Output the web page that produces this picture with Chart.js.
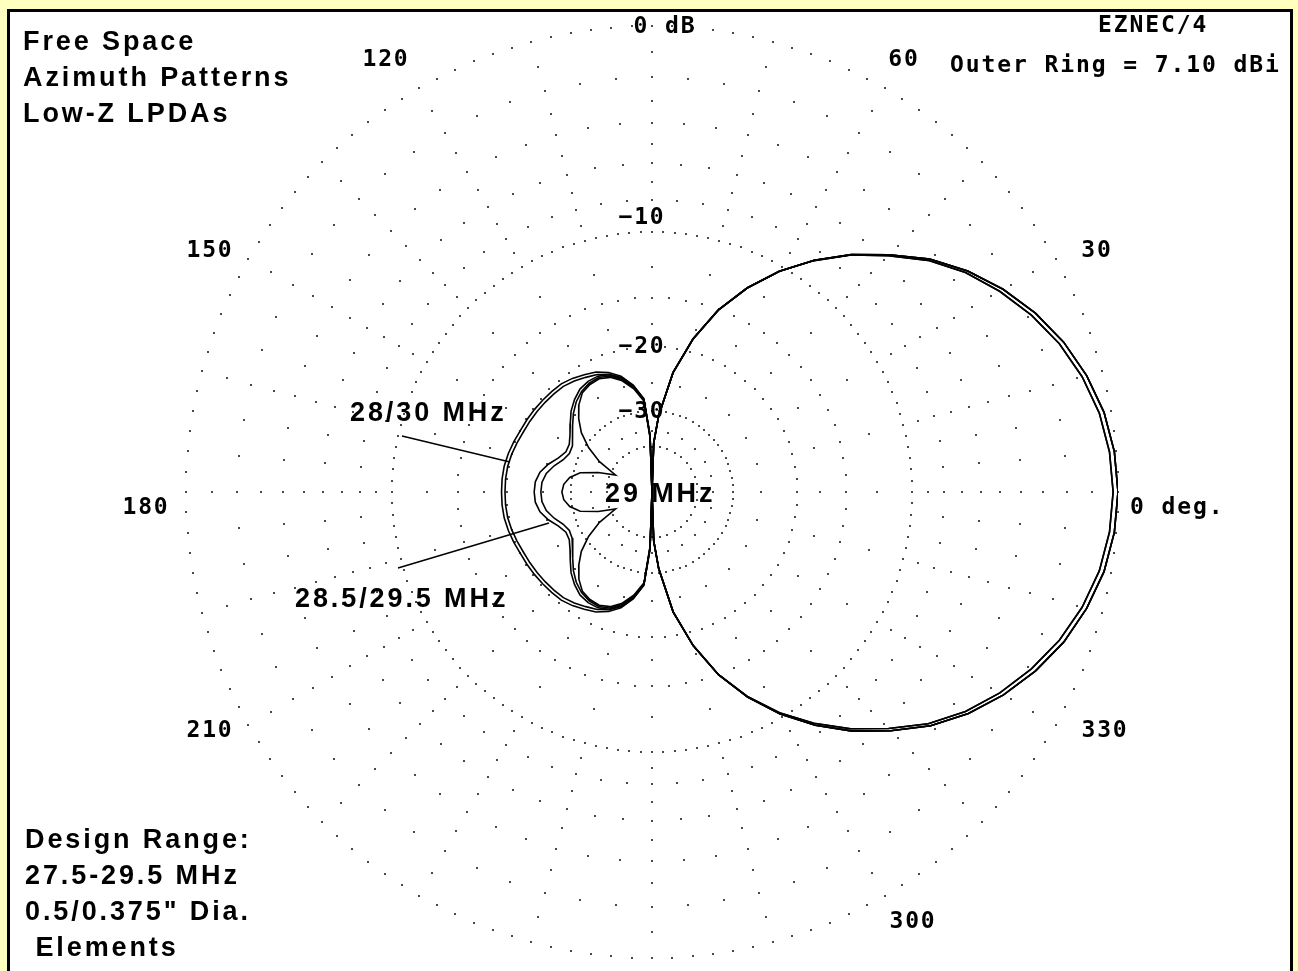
<!DOCTYPE html>
<html>
<head>
<meta charset="utf-8">
<title>Free Space Azimuth Patterns - Low-Z LPDAs</title>
<script src="https://cdn.jsdelivr.net/npm/chart.js@4.4.1/dist/chart.umd.min.js"></script>
<style>
  html, body { margin: 0; padding: 0; background: #ffffc0; }
  #wrap { position: relative; width: 1298px; height: 971px; }
</style>
</head>
<body>
<div id="wrap"><canvas id="polar"></canvas></div>
<script>
// Azimuth angles (degrees, 0 = forward, counter-clockwise)
const ANGLES = [0,5,10,15,20,25,30,35,40,45,50,55,60,65,70,75,80,85,88,90,92,
  95,100,105,110,115,120,125,130,135,140,145,150,155,160,165,170,175,180,
  185,190,195,200,205,210,215,220,225,230,235,240,245,250,255,260,265,
  268,270,272,275,280,285,290,295,300,305,310,315,320,325,330,335,340,345,350,355,360];

// Relative field strength in dB below the outer ring (7.10 dBi)
const MHZ_28 = [-0.18,-0.25,-0.44,-0.78,-1.24,-1.84,-2.56,-3.38,-4.41,-5.7,-7.03,-8.59,-10.36,-12.49,-15.08,-18.52,-23.12,-30.92,-38.7,
  -99,-36.0,
  -27.5,-25.0,-23.3,-22.3,-21.6,-21.2,-20.8,-20.5,-20.4,-20.3,-20.2,-20.1,-20.0,-19.8,-19.6,-19.45,-19.4,-19.4,
  -19.4,-19.45,-19.6,-19.8,-20.0,-20.1,-20.2,-20.3,-20.4,-20.5,-20.8,-21.2,-21.6,-22.3,-23.3,-25.0,-27.5,
  -36.0,-99,
  -38.7,-30.92,-23.05,-18.45,-15.0,-12.45,-10.35,-8.6,-7.05,-5.69,-4.4,-3.38,-2.55,-1.84,-1.24,-0.78,-0.44,-0.25,-0.18];

const MHZ_30 = [-0.18,-0.25,-0.44,-0.78,-1.24,-1.84,-2.56,-3.38,-4.41,-5.7,-7.03,-8.59,-10.36,-12.49,-15.08,-18.52,-23.12,-30.92,-38.7,
  -99,-36.0,
  -27.6,-25.1,-23.5,-22.6,-21.95,-21.6,-21.2,-20.9,-20.8,-20.7,-20.6,-20.5,-20.4,-20.2,-20.0,-19.85,-19.8,-19.8,
  -19.8,-19.85,-20.0,-20.2,-20.4,-20.5,-20.6,-20.7,-20.8,-20.9,-21.2,-21.6,-21.95,-22.6,-23.5,-25.1,-27.6,
  -36.0,-99,
  -38.7,-30.92,-23.05,-18.45,-15.0,-12.45,-10.35,-8.6,-7.05,-5.69,-4.4,-3.38,-2.55,-1.84,-1.24,-0.78,-0.44,-0.25,-0.18];

const MHZ_28_5 = [0,-0.07,-0.26,-0.6,-1.06,-1.66,-2.39,-3.26,-4.31,-5.64,-7.0,-8.57,-10.36,-12.49,-15.08,-18.52,-23.12,-30.92,-38.7,
  -99,-36.5,
  -27.8,-25.3,-23.6,-22.6,-22.2,-22.2,-22.5,-23.2,-24.1,-25.3,-26.4,-27.2,-27.3,-26.5,-25.2,-24.2,-23.7,-23.6,
  -23.7,-24.2,-25.2,-26.5,-27.3,-27.2,-26.4,-25.3,-24.1,-23.2,-22.5,-22.2,-22.2,-22.6,-23.6,-25.3,-27.8,
  -36.5,-99,
  -38.7,-30.92,-23.05,-18.45,-15.0,-12.4,-10.25,-8.45,-6.88,-5.53,-4.25,-3.22,-2.37,-1.65,-1.05,-0.6,-0.26,-0.07,0];

const MHZ_29_5 = [0,-0.07,-0.26,-0.6,-1.06,-1.66,-2.39,-3.26,-4.31,-5.64,-7.0,-8.57,-10.36,-12.49,-15.08,-18.52,-23.12,-30.92,-38.7,
  -99,-36.5,
  -27.8,-25.4,-23.8,-22.8,-22.4,-22.5,-22.9,-23.6,-24.6,-25.8,-27.0,-27.8,-28.0,-27.4,-26.2,-25.2,-24.7,-24.6,
  -24.7,-25.2,-26.2,-27.4,-28.0,-27.8,-27.0,-25.8,-24.6,-23.6,-22.9,-22.5,-22.4,-22.8,-23.8,-25.4,-27.8,
  -36.5,-99,
  -38.7,-30.92,-23.05,-18.45,-15.0,-12.4,-10.25,-8.45,-6.88,-5.53,-4.25,-3.22,-2.37,-1.65,-1.05,-0.6,-0.26,-0.07,0];

const MHZ_29 = [0,-0.07,-0.26,-0.6,-1.06,-1.66,-2.39,-3.26,-4.31,-5.64,-7.0,-8.57,-10.36,-12.49,-15.08,-18.52,-23.12,-30.92,-38.7,
  -99,-37.0,
  -28.0,-25.6,-24.0,-23.0,-22.6,-22.7,-23.1,-24.2,-25.8,-27.8,-30.8,-35.0,-42.0,-36.0,-31.5,-29.5,-28.5,-28.2,
  -28.5,-29.5,-31.5,-36.0,-42.0,-35.0,-30.8,-27.8,-25.8,-24.2,-23.1,-22.7,-22.6,-23.0,-24.0,-25.6,-28.0,
  -37.0,-99,
  -38.7,-30.92,-23.05,-18.45,-15.0,-12.4,-10.25,-8.45,-6.88,-5.53,-4.25,-3.22,-2.37,-1.65,-1.05,-0.6,-0.26,-0.07,0];

// Grid: dotted rings (dB, spacing of dots in degrees) and radial spokes
const RING_DB = [0, -2, -4, -6, -8, -10, -15, -20, -30, -40];
const RING_DOT_STEP = [2.5, 5, 5, 5, 5, 2.5, 5, 5, 5, 10];
const SPOKE_DOT_DB = [-1, -3, -5, -7, -9, -12.5, -17.5, -25, -35];
const SPOKE_STEP = 15;

// Axis text
const RING_LABELS = ['0 dB', '\u221210', '\u221220', '\u221230'];
const ANGLE_TICKS = [0, 30, 60, 120, 150, 180, 210, 300, 330];
const ANGLE_TICK_LABELS = ['0 deg.', '30', '60', '120', '150', '180', '210', '300', '330'];
const TITLE_LINES = ['Free Space', 'Azimuth Patterns', 'Low-Z LPDAs'];
const NOTE_LINES = ['Design Range:', '27.5-29.5 MHz', '0.5/0.375" Dia.', ' Elements'];
const CURVE_LABELS = ['28/30 MHz', '29 MHz', '28.5/29.5 MHz'];

// ARRL log-periodic radial scale: each 2 dB shrinks the radius by 0.89
function rho(db) {
  return db <= -90 ? 0 : Math.pow(0.89, -db / 2);
}
function toXY(angleDeg, db) {
  const a = angleDeg * Math.PI / 180;
  const r = rho(db);
  return { x: r * Math.cos(a), y: r * Math.sin(a) };
}
function series(values) {
  return ANGLES.map((a, i) => toXY(a, values[i]));
}

const lineStyle = { showLine: true, borderColor: '#000', borderWidth: 1.6, pointRadius: 0, tension: 0, fill: false };

const MONO = 'bold 23px "DejaVu Sans Mono", "Liberation Mono", monospace';
const SANS = 'bold 27px "Liberation Sans", Arial, sans-serif';

const framePlugin = {
  id: 'frame',
  beforeDraw(chart) {
    const ctx = chart.ctx;
    ctx.save();
    ctx.fillStyle = '#ffffc0';
    ctx.fillRect(0, 0, chart.width, chart.height);
    ctx.fillStyle = '#000';
    ctx.fillRect(7, 9, 1286, 980);
    ctx.fillStyle = '#fff';
    ctx.fillRect(10, 12, 1280, 980);
    ctx.restore();
  }
};

const gridPlugin = {
  id: 'polarGrid',
  beforeDatasetsDraw(chart) {
    const ctx = chart.ctx;
    const xs = chart.scales.x, ys = chart.scales.y;
    const cx = xs.getPixelForValue(0), cy = ys.getPixelForValue(0);
    const R = xs.getPixelForValue(1) - cx;
    const dot = (angleDeg, db) => {
      const a = angleDeg * Math.PI / 180;
      const r = R * rho(db);
      const px = Math.round(cx + r * Math.cos(a));
      const py = Math.round(cy - r * Math.sin(a));
      ctx.fillRect(px - 1, py - 1, 2, 2);
    };
    ctx.save();
    ctx.fillStyle = '#4a4a4a';
    RING_DB.forEach((db, i) => {
      const step = RING_DOT_STEP[i];
      for (let a = 0; a < 360; a += step) dot(a, db);
    });
    for (let a = 0; a < 360; a += SPOKE_STEP) {
      SPOKE_DOT_DB.forEach(db => dot(a, db));
    }
    ctx.restore();
  }
};

const textPlugin = {
  id: 'plotText',
  afterDatasetsDraw(chart) {
    const ctx = chart.ctx;
    const xs = chart.scales.x, ys = chart.scales.y;
    const cx = xs.getPixelForValue(0), cy = ys.getPixelForValue(0);
    ctx.save();
    ctx.fillStyle = '#000';
    ctx.strokeStyle = '#000';

    // pointer lines from the curve labels
    ctx.lineWidth = 1.4;
    ctx.beginPath();
    ctx.moveTo(cx - 250, cy - 56); ctx.lineTo(cx - 142, cy - 30);
    ctx.moveTo(cx - 254, cy + 76); ctx.lineTo(cx - 103, cy + 31);
    ctx.stroke();

    // monospaced scale text
    ctx.font = MONO;
    ctx.letterSpacing = '1.9px';
    ctx.textBaseline = 'middle';
    ctx.textAlign = 'center';
    const ringPos = [[cx + 13, cy - 465], [cx - 10, cy - 274], [cx - 10, cy - 145], [cx - 10, cy - 80]];
    RING_LABELS.forEach((t, i) => ctx.fillText(t, ringPos[i][0], ringPos[i][1]));

    const tickPos = {
      0: [cx + 478, cy + 16, 'left'],
      30: [cx + 445, cy - 241, 'center'],
      60: [cx + 252, cy - 432, 'center'],
      120: [cx - 266, cy - 432, 'center'],
      150: [cx - 442, cy - 241, 'center'],
      180: [cx - 506, cy + 16, 'center'],
      210: [cx - 442, cy + 239, 'center'],
      300: [cx + 261, cy + 430, 'center'],
      330: [cx + 453, cy + 239, 'center']
    };
    ANGLE_TICKS.forEach((a, i) => {
      const p = tickPos[a];
      ctx.textAlign = p[2];
      ctx.fillText(ANGLE_TICK_LABELS[i], p[0], p[1]);
    });
    ctx.textAlign = 'left';
    ctx.fillText('EZNEC/4', 1098, 26);
    ctx.fillText('Outer Ring = 7.10 dBi', 950, 66);

    // proportional annotation text
    ctx.font = SANS;
    ctx.letterSpacing = '2.9px';
    ctx.textBaseline = 'alphabetic';
    ctx.textAlign = 'left';
    TITLE_LINES.forEach((t, i) => ctx.fillText(t, 23, 50 + i * 36));
    NOTE_LINES.forEach((t, i) => ctx.fillText(t, 25, 848 + i * 36));
    ctx.fillText(CURVE_LABELS[0], 350, 421);
    ctx.fillText(CURVE_LABELS[1], 605, 502);
    ctx.fillText(CURVE_LABELS[2], 295, 607);
    ctx.restore();
  }
};

new Chart(document.getElementById('polar'), {
  type: 'scatter',
  data: {
    datasets: [
      Object.assign({ label: '28 MHz', data: series(MHZ_28) }, lineStyle),
      Object.assign({ label: '30 MHz', data: series(MHZ_30) }, lineStyle),
      Object.assign({ label: '28.5 MHz', data: series(MHZ_28_5) }, lineStyle),
      Object.assign({ label: '29.5 MHz', data: series(MHZ_29_5) }, lineStyle),
      Object.assign({ label: '29 MHz', data: series(MHZ_29) }, lineStyle)
    ]
  },
  options: {
    animation: false,
    responsive: true,
    maintainAspectRatio: false,
    devicePixelRatio: 1,
    layout: { padding: { left: 186, right: 180, top: 26, bottom: 13 } },
    scales: {
      x: { type: 'linear', min: -1, max: 1, display: false },
      y: { type: 'linear', min: -1, max: 1, display: false }
    },
    plugins: { legend: { display: false }, tooltip: { enabled: false } }
  },
  plugins: [framePlugin, gridPlugin, textPlugin]
});
</script>
</body>
</html>
